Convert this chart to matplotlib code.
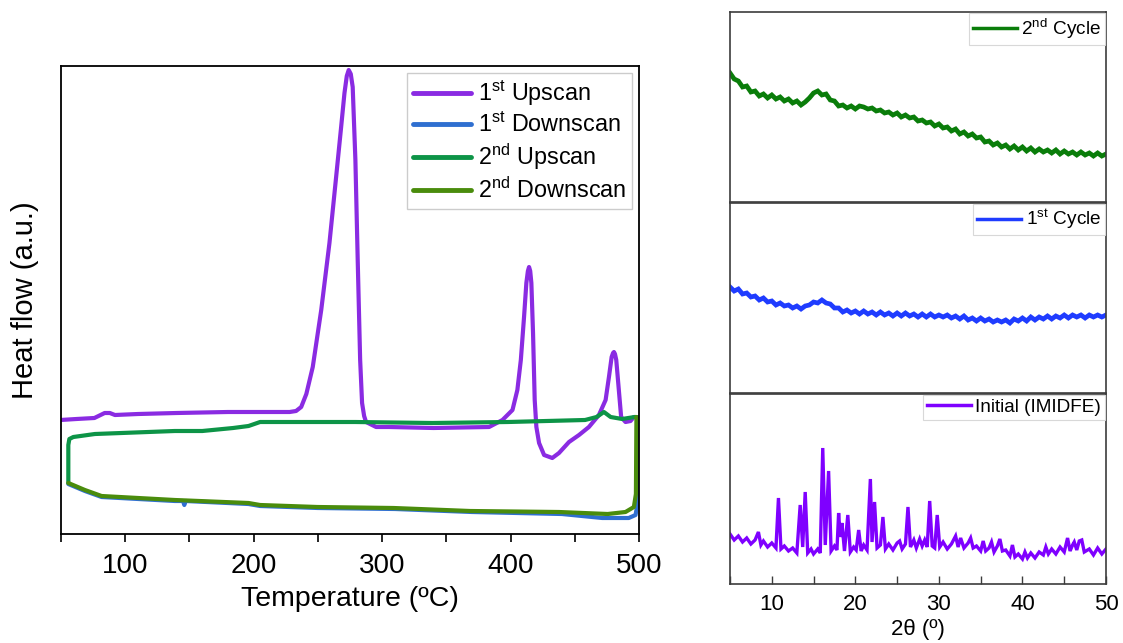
import numpy as np
import matplotlib.pyplot as plt
from matplotlib.ticker import MultipleLocator

plt.rcParams['font.family'] = ['Liberation Sans', 'DejaVu Sans']
plt.rcParams['mathtext.fontset'] = 'custom'
plt.rcParams['mathtext.rm'] = 'Liberation Sans'
plt.rcParams['mathtext.it'] = 'Liberation Sans:italic'
plt.rcParams['mathtext.bf'] = 'Liberation Sans:bold'

# ---- DSC: temperature (C) / heat flow (a.u.) ----
up1_T = [49.5, 62, 76, 84, 88, 92, 110, 140, 180, 215, 228, 233, 237, 241, 246, 252.6,
         259, 264.2, 268.1, 270.7, 272.5, 274, 275.6, 277.1, 279.2, 281, 282.9, 284.4,
         286, 287.5, 295.3, 305.6, 340, 383.3, 393.7, 401.5, 405.3, 408, 410.5, 412.3,
         413.5, 414.4, 415.3, 416.2, 417.5, 418.8, 420.1, 422.2, 426.1, 432.5, 437.7,
         445.5, 453.3, 461, 468.8, 474, 476.6, 478.7, 479.8, 480.5, 481.3, 482.3, 484.3,
         486.1, 489.5, 493.4, 496]
up1_hf = [1.14, 1.15, 1.16, 1.21, 1.21, 1.19, 1.20, 1.21, 1.22, 1.22, 1.22, 1.23, 1.27,
          1.40, 1.67, 2.24, 2.91, 3.57, 4.07, 4.41, 4.58, 4.64, 4.60, 4.47, 3.74, 2.74,
          1.74, 1.31, 1.18, 1.12, 1.07, 1.07, 1.06, 1.07, 1.14, 1.24, 1.44, 1.74, 2.17,
          2.51, 2.63, 2.67, 2.63, 2.51, 2.01, 1.34, 1.07, 0.91, 0.79, 0.76, 0.81, 0.92,
          0.99, 1.07, 1.19, 1.34, 1.57, 1.77, 1.81, 1.82, 1.80, 1.74, 1.44, 1.17, 1.12,
          1.13, 1.17]

dn1_T = [499.5, 499, 497.3, 492, 471.4, 440, 370, 310, 250, 205, 196, 147, 146, 145,
         138.6, 81.6, 68.6, 55.7]
dn1_hf = [1.17, 0.31, 0.19, 0.16, 0.16, 0.20, 0.22, 0.25, 0.26, 0.28, 0.30, 0.33, 0.29,
          0.33, 0.33, 0.37, 0.43, 0.50]

up2_T = [55.7, 55.7, 56.5, 59.6, 76.4, 138.6, 160, 184, 196, 205, 279, 339, 398, 458,
         467, 472.7, 477.9, 486.9, 496.5, 498]
up2_hf = [0.51, 0.89, 0.95, 0.97, 1.00, 1.03, 1.03, 1.06, 1.08, 1.12, 1.12, 1.11, 1.12,
          1.14, 1.17, 1.22, 1.17, 1.15, 1.17, 1.17]

dn2_T = [498, 497.6, 496, 489.5, 475.6, 437.7, 368.6, 309, 249.7, 205, 196, 138.6, 81.6,
         68.6, 55.7]
dn2_hf = [1.17, 0.40, 0.27, 0.22, 0.20, 0.22, 0.23, 0.26, 0.27, 0.29, 0.31, 0.34, 0.38,
          0.44, 0.51]

# ---- XRD: 2theta (deg) / intensity (a.u.) ----
tt_cycle = np.linspace(5, 50, 91)
i_cycle2 = [129, 123, 121, 115, 116, 110, 111, 106, 108, 104, 107, 103, 105, 101, 103,
            99, 101, 97, 100, 104, 109, 111, 107, 108, 102, 101, 96, 97, 94, 96, 93, 96,
            95, 93, 94, 91, 92, 89, 90, 87, 89, 85, 87, 84, 85, 81, 82, 79, 80, 76, 78,
            74, 75, 71, 73, 68, 70, 66, 68, 64, 65, 60, 61, 57, 59, 55, 57, 53, 56, 52,
            55, 51, 54, 50, 53, 50, 52, 49, 52, 48, 51, 48, 50, 47, 50, 47, 49, 46, 49,
            46, 48]
i_cycle1 = [106, 102, 104, 99, 100, 96, 97, 93, 95, 91, 92, 88, 90, 87, 88, 85, 87, 84,
            87, 88, 91, 90, 93, 90, 89, 85, 85, 81, 83, 80, 82, 79, 82, 79, 81, 78, 81,
            78, 80, 77, 80, 77, 80, 77, 79, 76, 79, 76, 79, 76, 78, 76, 78, 75, 77, 74,
            77, 73, 75, 72, 75, 72, 74, 71, 73, 71, 73, 70, 74, 72, 75, 72, 76, 73, 76,
            74, 77, 74, 77, 75, 78, 75, 78, 76, 78, 75, 78, 76, 78, 76, 78]

tt_init = [5.0, 5.5, 6.0, 6.5, 7.0, 7.5, 8.0, 8.4, 8.7, 9.0, 9.5, 10.0, 10.5, 10.8, 11.1,
           11.5, 12.0, 12.5, 13.0, 13.4, 13.7, 14.0, 14.3, 14.7, 15.0, 15.5, 15.8, 16.1,
           16.4, 16.8, 17.1, 17.5, 17.8, 18.0, 18.2, 18.4, 18.7, 19.1, 19.4, 19.8, 20.1,
           20.4, 20.7, 21.0, 21.4, 21.8, 22.0, 22.3, 22.6, 23.0, 23.3, 23.6, 24.0, 24.5,
           25.0, 25.3, 25.6, 26.0, 26.3, 26.6, 27.0, 27.3, 27.7, 28.0, 28.3, 28.6, 28.9,
           29.2, 29.5, 29.8, 30.1, 30.5, 31.0, 31.5, 32.0, 32.3, 32.6, 33.0, 33.5, 33.8,
           34.1, 34.5, 35.0, 35.3, 35.6, 36.0, 36.3, 36.6, 37.0, 37.3, 37.6, 38.0, 38.5,
           38.8, 39.1, 39.5, 40.0, 40.3, 40.6, 41.0, 41.5, 42.0, 42.5, 42.8, 43.1, 43.5,
           44.0, 44.5, 45.0, 45.4, 45.7, 46.0, 46.2, 46.5, 46.8, 47.1, 47.4, 48.0, 48.5,
           49.0, 49.5, 50.0]
i_init = [50, 44, 48, 42, 46, 40, 44, 52, 39, 43, 37, 41, 36, 86, 35, 38, 33, 36, 31,
          79, 37, 92, 31, 35, 30, 35, 31, 136, 39, 113, 33, 38, 34, 71, 47, 61, 33, 69,
          32, 37, 34, 54, 33, 39, 34, 105, 42, 82, 36, 39, 67, 35, 40, 34, 41, 43, 35,
          40, 77, 37, 44, 36, 45, 38, 44, 37, 83, 38, 36, 69, 37, 42, 35, 40, 48, 37, 46,
          36, 41, 46, 36, 38, 33, 43, 33, 36, 42, 32, 38, 45, 33, 34, 28, 39, 27, 30, 25,
          32, 26, 31, 26, 32, 29, 37, 30, 35, 30, 37, 32, 46, 33, 39, 42, 34, 43, 44, 32,
          35, 29, 36, 30, 35]

dsc_labels = [r'1$^{\mathrm{st}}$ Upscan', r'1$^{\mathrm{st}}$ Downscan',
              r'2$^{\mathrm{nd}}$ Upscan', r'2$^{\mathrm{nd}}$ Downscan']
dsc_colors = ['#8a2be2', '#2f6fd0', '#0d9447', '#4a8c0c']

W, H = 1123, 643
fig = plt.figure(figsize=(W / 100, H / 100), dpi=100)

# ---- DSC panel ----
ax = fig.add_axes([61 / W, 109 / H, 578 / W, 468 / H])
for T, hf, lab, c in zip([up1_T, dn1_T, up2_T, dn2_T], [up1_hf, dn1_hf, up2_hf, dn2_hf],
                         dsc_labels, dsc_colors):
    ax.plot(T, hf, color=c, lw=3.0, label=lab, solid_joinstyle='round',
            solid_capstyle='round')
ax.set_xlim(50, 500)
ax.set_ylim(0, 4.68)
ax.xaxis.set_major_locator(MultipleLocator(100))
ax.xaxis.set_minor_locator(MultipleLocator(50))
ax.tick_params(axis='x', which='both', direction='out', length=6, width=1.2,
               labelsize=20, pad=8)
ax.set_yticks([])
for s in ax.spines.values():
    s.set_linewidth(1.3)
ax.set_xlabel('Temperature (ºC)', fontsize=20.5, labelpad=5)
ax.set_ylabel('Heat flow (a.u.)', fontsize=21, labelpad=16)
leg = ax.legend(loc='upper right', fontsize=16.8, handlelength=2.5, handletextpad=0.3,
                labelspacing=0.2, borderpad=0.25, borderaxespad=0.3, frameon=True,
                fancybox=False, framealpha=1)
leg.get_frame().set_edgecolor('#cccccc')
leg.get_frame().set_linewidth(1.0)
for ln in leg.get_lines():
    ln.set_linewidth(3.5)

# ---- XRD stack ----
xrd = [(tt_cycle, i_cycle2, '2$^{\\mathrm{nd}}$ Cycle', '#0a7d0a', 441),
       (tt_cycle, i_cycle1, '1$^{\\mathrm{st}}$ Cycle', '#1f3cff', 250),
       (tt_init, i_init, 'Initial (IMIDFE)', '#7f00ff', 59)]
for k, (tt, inten, lab, c, bot) in enumerate(xrd):
    a = fig.add_axes([730 / W, bot / H, 376 / W, 190 / H])
    a.plot(tt, inten, color=c, lw=3.4 if k < 2 else 2.4, label=lab,
           solid_joinstyle='miter')
    a.set_xlim(5, 50)
    a.set_ylim(0, 190)
    a.set_yticks([])
    for s in a.spines.values():
        s.set_linewidth(1.2)
        s.set_color('#3c3c3c')
    a.xaxis.set_major_locator(MultipleLocator(10))
    a.xaxis.set_minor_locator(MultipleLocator(5))
    if k < 2:
        a.tick_params(axis='x', which='both', length=0, labelbottom=False)
    else:
        a.tick_params(axis='x', which='both', direction='in', length=6, width=1.0,
                      labelsize=16, pad=7, color='#3c3c3c')
        a.set_xlabel('2θ (º)', fontsize=16, labelpad=3)
    lg = a.legend(loc='upper right', fontsize=13.7, handlelength=2.3, handletextpad=0.25,
                  borderpad=0.2, borderaxespad=0.05, frameon=True, fancybox=False,
                  framealpha=1)
    lg.get_frame().set_edgecolor('#d8d8d8')
    lg.get_frame().set_linewidth(0.8)
    for ln in lg.get_lines():
        ln.set_linewidth(2.5)

fig.savefig('out.png', dpi=100)
